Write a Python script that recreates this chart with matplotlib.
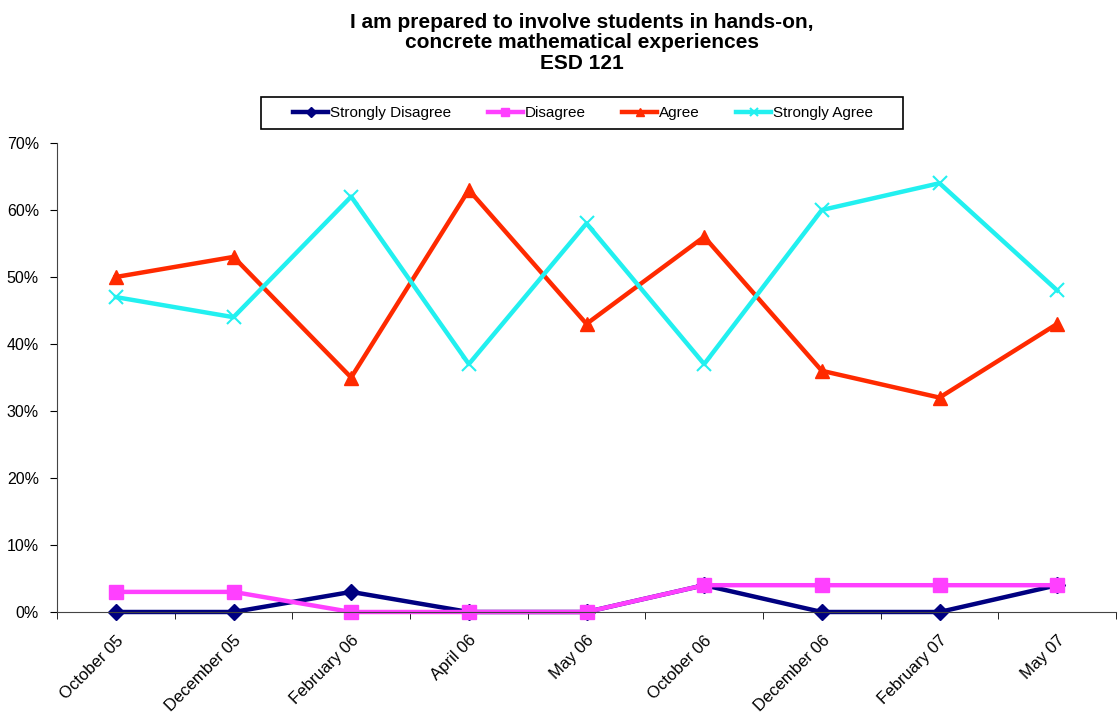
import matplotlib.pyplot as plt
from matplotlib.patches import Rectangle
from matplotlib.ticker import FixedLocator, PercentFormatter

plt.rcParams['font.family'] = ['Liberation Sans', 'DejaVu Sans']

months = ['October 05', 'December 05', 'February 06', 'April 06', 'May 06',
          'October 06', 'December 06', 'February 07', 'May 07']
strongly_disagree = [0, 0, 3, 0, 0, 4, 0, 0, 4]
disagree = [3, 3, 0, 0, 0, 4, 4, 4, 4]
agree = [50, 53, 35, 63, 43, 56, 36, 32, 43]
strongly_agree = [47, 44, 62, 37, 58, 37, 60, 64, 48]

series = [
    ('Strongly Disagree', strongly_disagree, '#000080', 'D', 8),
    ('Disagree', disagree, '#ff40ff', 's', 10),
    ('Agree', agree, '#ff2a00', '^', 10),
    ('Strongly Agree', strongly_agree, '#22f0f0', 'x', 10),
]

W, H = 1118, 719
fig = plt.figure(figsize=(W / 100, H / 100), dpi=100)
ax = fig.add_axes([57 / W, 1 - 612 / H, (1116 - 57) / W, (612 - 143) / H])

x = list(range(len(months)))
for name, vals, color, marker, ms in series:
    ax.plot(x, vals, color=color, lw=3.2, marker=marker, markersize=ms,
            markeredgewidth=1.5 if marker == 'x' else 1, label=name,
            clip_on=False)

ax.set_xlim(-0.5, len(months) - 0.5)
ax.set_ylim(0, 70)
ax.set_yticks(range(0, 71, 10))
ax.yaxis.set_major_formatter(PercentFormatter(decimals=0))
ax.set_xticks(x)
ax.set_xticklabels(months, rotation=45, ha='right', rotation_mode='anchor',
                   fontsize=12)
ax.xaxis.set_minor_locator(FixedLocator([i - 0.5 for i in range(len(months) + 1)]))
ax.tick_params(axis='x', which='major', length=0, pad=15)
ax.tick_params(axis='x', which='minor', length=5, direction='out')
ax.tick_params(axis='y', length=5, direction='out', labelsize=11.5, pad=8)
ax.spines['top'].set_visible(False)
ax.spines['right'].set_visible(False)
ax.spines['left'].set_color('#444444')
ax.spines['bottom'].set_color('#444444')

fig.text(582 / W, 1 - 13 / H,
         'I am prepared to involve students in hands-on,\nconcrete mathematical experiences\nESD 121',
         ha='center', va='top', fontsize=15, fontweight='bold', linespacing=1.1)

# legend box drawn separately so its padding can match the original
fig.patches.append(Rectangle((261 / W, 1 - 129 / H), (903 - 261) / W, 32 / H,
                             transform=fig.transFigure, facecolor='white',
                             edgecolor='black', lw=1.2, zorder=0))
leg = fig.legend(loc='center', bbox_to_anchor=(583 / W, 1 - 113 / H), ncol=4,
                 frameon=False, fontsize=11, handlelength=2.3,
                 handletextpad=0.1, columnspacing=2.4, markerscale=0.6)

fig.savefig('out.png', dpi=100)
